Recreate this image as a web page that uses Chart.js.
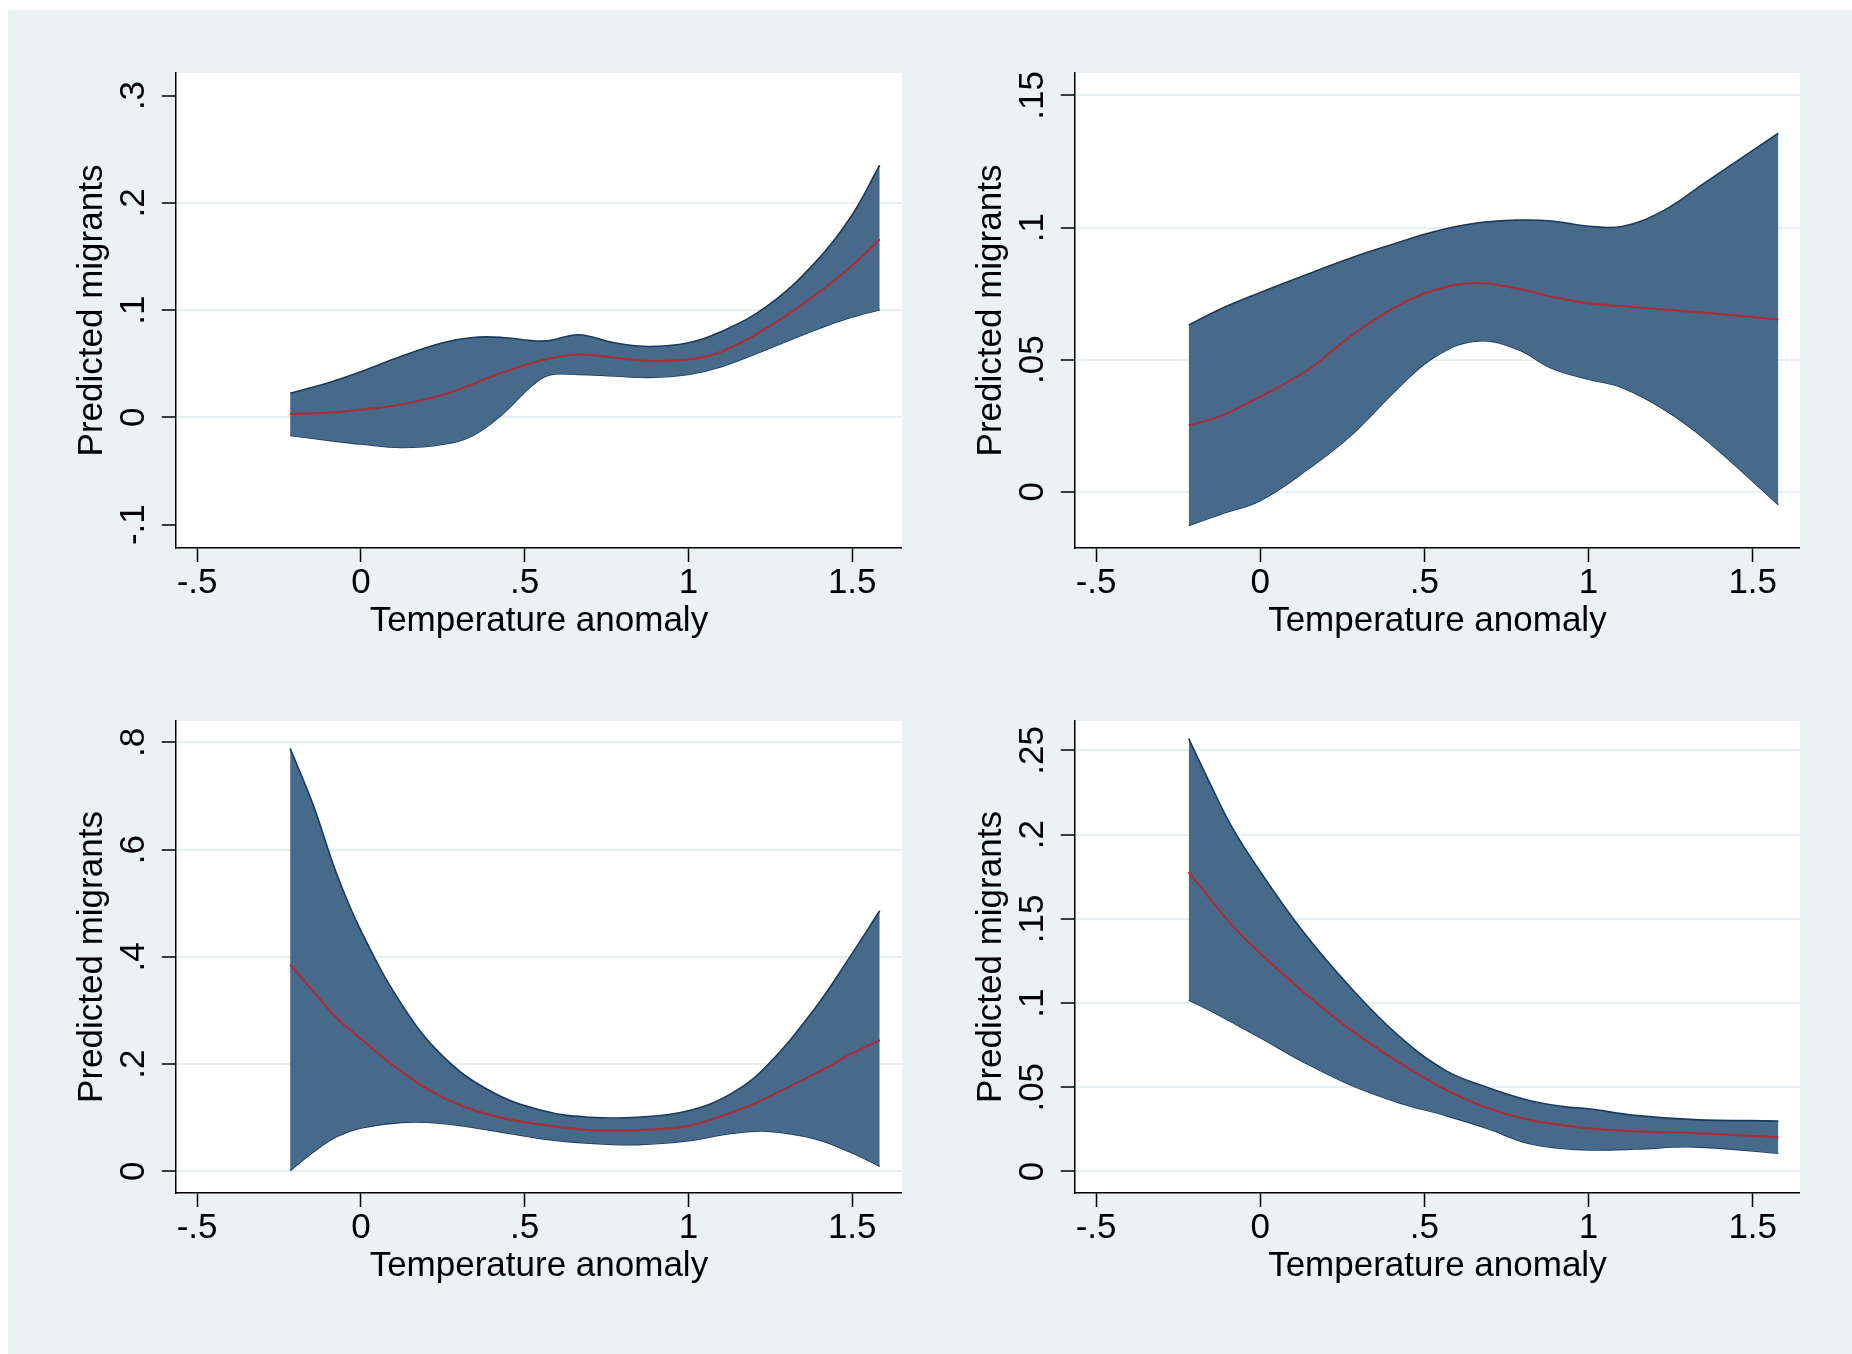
<!DOCTYPE html>
<html>
<head>
<meta charset="utf-8">
<script src="https://cdn.jsdelivr.net/npm/chart.js@4.4.1/dist/chart.umd.min.js"></script>
<style>
    html, body { margin: 0; padding: 0; background: #ffffff; }
    body { width: 1852px; height: 1354px; position: relative; overflow: hidden; }
    #bg { position: absolute; left: 8px; top: 10px; right: 0; bottom: 0; background: #eaf2f3; }
    canvas { position: absolute; }
</style>
</head>
<body>
<div id="bg"></div>
<canvas id="c1" width="875" height="615" style="left:27px;top:53px;width:875px;height:615px"></canvas>
<canvas id="c2" width="874" height="615" style="left:926px;top:53px;width:874px;height:615px"></canvas>
<canvas id="c3" width="875" height="612" style="left:27px;top:701px;width:875px;height:612px"></canvas>
<canvas id="c4" width="874" height="612" style="left:926px;top:701px;width:874px;height:612px"></canvas>
<script>
// ---- shared axis data ----
const xTicks = [-0.5, 0, 0.5, 1, 1.5];
const xLabels = ['-.5', '0', '.5', '1', '1.5'];

// ---- panel 1 (top left) ----
const p1X     = [-0.216, -0.092, 0, 0.124, 0.25, 0.341, 0.431, 0.521, 0.575, 0.665, 0.773, 0.881, 1.0, 1.097, 1.24, 1.386, 1.494, 1.584];
const p1Upper = [0.0225, 0.033, 0.0426, 0.057, 0.0695, 0.0745, 0.0745, 0.0715, 0.0715, 0.077, 0.0695, 0.066, 0.0695, 0.0795, 0.1036, 0.144, 0.186, 0.235];
const p1Lower = [-0.0169, -0.0217, -0.0249, -0.028, -0.025, -0.0169, 0.0028, 0.0293, 0.0394, 0.040, 0.0386, 0.0373, 0.040, 0.047, 0.0635, 0.0815, 0.093, 0.1004];
const p1Fit   = [0.0032, 0.0044, 0.0072, 0.012, 0.021, 0.031, 0.0415, 0.0505, 0.0548, 0.0586, 0.0558, 0.0525, 0.054, 0.061, 0.0835, 0.1137, 0.14, 0.166];
const p1YTicks  = [-0.1, 0, 0.1, 0.2, 0.3];
const p1YLabels = ['-.1', '0', '.1', '.2', '.3'];
const p1Grid    = [0, 0.1, 0.2];

// ---- panel 2 (top right) ----
const p2X     = [-0.218, -0.121, 0, 0.15, 0.276, 0.42, 0.528, 0.654, 0.78, 0.888, 1.0, 1.105, 1.231, 1.357, 1.578];
const p2Upper = [0.0631, 0.0692, 0.0754, 0.0826, 0.0885, 0.0943, 0.0984, 0.1016, 0.1028, 0.1025, 0.1005, 0.1005, 0.1066, 0.1172, 0.1357];
const p2Lower = [-0.0128, -0.0085, -0.0033, 0.009, 0.0213, 0.0393, 0.0508, 0.057, 0.0541, 0.0467, 0.0426, 0.0393, 0.0311, 0.0197, -0.0049];
const p2Fit   = [0.0251, 0.0287, 0.036, 0.0465, 0.059, 0.0705, 0.0762, 0.079, 0.077, 0.0738, 0.0713, 0.0702, 0.0689, 0.0677, 0.0652];
const p2YTicks  = [0, 0.05, 0.1, 0.15];
const p2YLabels = ['0', '.05', '.1', '.15'];
const p2Grid    = [0, 0.05, 0.1, 0.15];

// ---- panel 3 (bottom left) ----
const p3X     = [-0.216, -0.146, -0.074, 0, 0.124, 0.25, 0.395, 0.557, 0.7, 0.845, 1.0, 1.133, 1.241, 1.386, 1.494, 1.584];
const p3Upper = [0.789, 0.684, 0.555, 0.449, 0.312, 0.215, 0.150, 0.113, 0.101, 0.101, 0.113, 0.146, 0.198, 0.304, 0.401, 0.486];
const p3Lower = [0.0016, 0.036, 0.065, 0.081, 0.0915, 0.0895, 0.077, 0.0607, 0.0526, 0.050, 0.057, 0.071, 0.075, 0.061, 0.036, 0.0097];
const p3Fit   = [0.386, 0.336, 0.287, 0.247, 0.186, 0.138, 0.105, 0.0866, 0.077, 0.077, 0.085, 0.110, 0.138, 0.182, 0.218, 0.2445];
const p3YTicks  = [0, 0.2, 0.4, 0.6, 0.8];
const p3YLabels = ['0', '.2', '.4', '.6', '.8'];
const p3Grid    = [0, 0.2, 0.4, 0.6, 0.8];

// ---- panel 4 (bottom right) ----
const p4X     = [-0.218, -0.157, -0.085, 0, 0.132, 0.276, 0.42, 0.564, 0.69, 0.816, 0.924, 1.0, 1.141, 1.321, 1.578];
const p4Upper = [0.257, 0.232, 0.204, 0.178, 0.142, 0.109, 0.0808, 0.060, 0.050, 0.0423, 0.0385, 0.0372, 0.0333, 0.0308, 0.030];
const p4Lower = [0.1018, 0.096, 0.0885, 0.0795, 0.065, 0.0513, 0.041, 0.0333, 0.0256, 0.0167, 0.0136, 0.0128, 0.0133, 0.0146, 0.0108];
const p4Fit   = [0.1777, 0.163, 0.146, 0.1295, 0.1065, 0.084, 0.065, 0.0487, 0.0378, 0.0308, 0.0274, 0.0256, 0.0238, 0.0228, 0.0203];
const p4YTicks  = [0, 0.05, 0.1, 0.15, 0.2, 0.25];
const p4YLabels = ['0', '.05', '.1', '.15', '.2', '.25'];
const p4Grid    = [0, 0.05, 0.1, 0.15, 0.2, 0.25];

const FONT_FAMILY = '"Liberation Sans", Arial, sans-serif';
const FONT_SIZE = 35;
const BAND_FILL = '#486a8a';
const BAND_EDGE = '#1b3a5c';
const FIT_RED = '#a3303a';
const GRID_COL = '#e6eff1';

Chart.defaults.font.family = FONT_FAMILY;
Chart.defaults.font.size = FONT_SIZE;
Chart.defaults.color = '#000';

// white plot region, like the Stata plotregion
const plotWhite = {
    id: 'plotWhite',
    beforeDraw(chart) {
        const a = chart.chartArea;
        const ctx = chart.ctx;
        ctx.save();
        ctx.fillStyle = '#ffffff';
        ctx.fillRect(a.left, a.top, a.right - a.left, a.bottom - a.top);
        ctx.restore();
    }
};

function pts(xs, ys) {
    return xs.map((x, i) => ({ x: x, y: ys[i] }));
}

// y tick labels sit rotated, centred ~41px left of the axis
function yPad(labels) {
    const ctx = document.createElement('canvas').getContext('2d');
    ctx.font = FONT_SIZE + 'px ' + FONT_FAMILY;
    const widest = Math.max(...labels.map(l => ctx.measureText(l).width));
    return 41 - 14 - widest / 2;
}

function makePanel(id, p) {
    new Chart(document.getElementById(id), {
        type: 'line',
        data: {
            datasets: [
                { data: pts(p.x, p.fit), borderColor: FIT_RED, borderWidth: 2.2, fill: false },
                { data: pts(p.x, p.upper), borderColor: BAND_EDGE, borderWidth: 1.6, backgroundColor: BAND_FILL, fill: '+1' },
                { data: pts(p.x, p.lower), borderColor: BAND_EDGE, borderWidth: 1.6, fill: false }
            ]
        },
        options: {
            responsive: false,
            animation: false,
            devicePixelRatio: 1,
            layout: { padding: { top: 20, left: 0, right: 0, bottom: 0 } },
            elements: {
                point: { radius: 0 },
                line: { tension: 0.4 }
            },
            plugins: { legend: { display: false }, tooltip: { enabled: false } },
            scales: {
                x: {
                    type: 'linear',
                    min: p.xMin, max: p.xMax,
                    afterBuildTicks: s => { s.ticks = xTicks.map(v => ({ value: v })); },
                    afterFit: s => { s.height = 120; s.paddingLeft = 0; s.paddingRight = 0; },
                    ticks: {
                        padding: 0,
                        maxRotation: 0,
                        autoSkip: false,
                        callback: (v, i) => xLabels[i]
                    },
                    grid: { drawOnChartArea: false, tickLength: 14, tickColor: '#000', tickWidth: 1.5 },
                    border: { color: '#000', width: 1.5 },
                    title: { display: true, text: 'Temperature anomaly', padding: { top: 0, bottom: 26 } }
                },
                y: {
                    type: 'linear',
                    min: p.yMin, max: p.yMax,
                    afterBuildTicks: s => { s.ticks = p.yTicks.map(v => ({ value: v })); },
                    afterFit: s => { s.width = 148.8; s.paddingTop = 0; s.paddingBottom = 0; },
                    ticks: {
                        minRotation: 90, maxRotation: 90,
                        crossAlign: 'center',
                        padding: yPad(p.yLabels),
                        autoSkip: false,
                        callback: (v, i) => p.yLabels[i]
                    },
                    grid: {
                        color: c => (c.tick && p.grid.some(g => Math.abs(g - c.tick.value) < 1e-9)) ? GRID_COL : 'rgba(0,0,0,0)',
                        lineWidth: 2,
                        tickLength: 14, tickColor: '#000', tickWidth: 1.5
                    },
                    border: { color: '#000', width: 1.5 },
                    title: { display: true, text: 'Predicted migrants', padding: { top: 44, bottom: 0 } }
                }
            }
        },
        plugins: [plotWhite]
    });
}

makePanel('c1', { x: p1X, upper: p1Upper, lower: p1Lower, fit: p1Fit, yTicks: p1YTicks, yLabels: p1YLabels, grid: p1Grid,
    xMin: -0.565, xMax: 1.652, yMin: -0.1218, yMax: 0.321 });
makePanel('c2', { x: p2X, upper: p2Upper, lower: p2Lower, fit: p2Fit, yTicks: p2YTicks, yLabels: p2YLabels, grid: p2Grid,
    xMin: -0.565, xMax: 1.644, yMin: -0.0213, yMax: 0.1585 });
makePanel('c3', { x: p3X, upper: p3Upper, lower: p3Lower, fit: p3Fit, yTicks: p3YTicks, yLabels: p3YLabels, grid: p3Grid,
    xMin: -0.565, xMax: 1.652, yMin: -0.0403, yMax: 0.840 });
makePanel('c4', { x: p4X, upper: p4Upper, lower: p4Lower, fit: p4Fit, yTicks: p4YTicks, yLabels: p4YLabels, grid: p4Grid,
    xMin: -0.565, xMax: 1.644, yMin: -0.0128, yMax: 0.2675 });
</script>
</body>
</html>
